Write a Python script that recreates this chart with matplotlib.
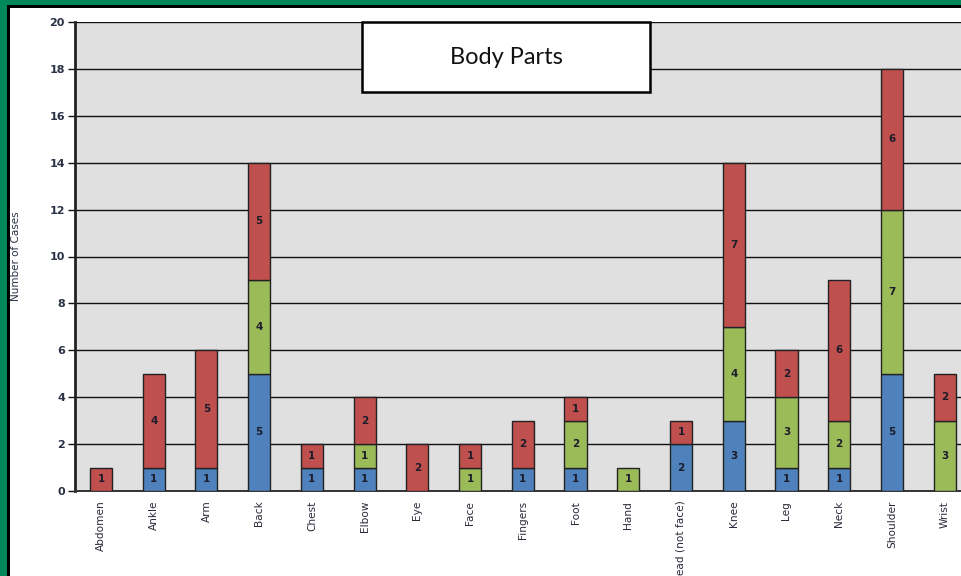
import matplotlib
matplotlib.use("Agg")
import matplotlib.pyplot as plt
from matplotlib.patches import Rectangle
import numpy as np

parts = ["Abdomen", "Ankle", "Arm", "Back", "Chest", "Elbow", "Eye", "Face", "Fingers",
         "Foot", "Hand", "Head (not face)", "Knee", "Leg", "Neck", "Shoulder", "Wrist"]
blue = [0, 1, 1, 5, 1, 1, 0, 0, 1, 1, 0, 2, 3, 1, 1, 5, 0]
green = [0, 0, 0, 4, 0, 1, 0, 1, 0, 2, 1, 0, 4, 3, 2, 7, 3]
red = [1, 4, 5, 5, 1, 2, 2, 1, 2, 1, 0, 1, 7, 2, 6, 6, 2]
yticks = [0, 2, 4, 6, 8, 10, 12, 14, 16, 18, 20]

W, H = 961, 576
fig = plt.figure(figsize=(W / 100, H / 100), dpi=100)
fig.patch.set_facecolor("#00875a")
# frame: green outer, black line, white inside
fig.add_artist(Rectangle((7 / W, 0), 1, 1 - 5 / H, transform=fig.transFigure,
                         facecolor="black", edgecolor="none", zorder=-2))
fig.add_artist(Rectangle((10 / W, 0), 1, 1 - 7.5 / H, transform=fig.transFigure,
                         facecolor="white", edgecolor="none", zorder=-1))

ax = fig.add_axes([74.6 / W, (H - 491) / H, 896.4 / W, 469 / H])
ax.set_facecolor("#e0e0e0")

x = np.arange(len(parts))
w = 0.42
b1 = np.array(blue)
b2 = b1 + np.array(green)
kw = dict(width=w, edgecolor="#222222", linewidth=1.0, zorder=3)
bars_b = ax.bar(x, blue, color="#4f81bd", **kw)
bars_g = ax.bar(x, green, bottom=b1, color="#9bbb59", **kw)
bars_r = ax.bar(x, red, bottom=b2, color="#c0504d", **kw)

for bars, vals in [(bars_b, blue), (bars_g, green), (bars_r, red)]:
    # hide zero-height bars entirely
    for bar, v in zip(bars, vals):
        if v == 0:
            bar.set_visible(False)
    ax.bar_label(bars, labels=[str(v) if v else "" for v in vals], label_type="center",
                 fontsize=7.5, fontweight="bold", color="#1c1c2a", zorder=4)

ax.set_xlim(-0.5, len(parts) - 0.5)
ax.set_ylim(0, 20)
ax.set_yticks(yticks)
ax.set_yticklabels([str(t) for t in yticks], fontsize=8, fontweight="bold", color="#2a3145")
ax.yaxis.grid(True, color="#111111", linewidth=1.0, zorder=1)
ax.set_axisbelow(True)

ax.set_xticks(x)
ax.set_xticklabels(parts, rotation=90, fontsize=7.6, color="#2a2a3a")
ax.tick_params(axis="x", length=0, pad=7)
ax.tick_params(axis="y", length=5, width=1, color="#111111", pad=2)

for s in ["top", "right"]:
    ax.spines[s].set_visible(False)
ax.spines["left"].set_linewidth(2)
ax.spines["left"].set_color("#222222")
ax.spines["bottom"].set_linewidth(1.4)
ax.spines["bottom"].set_color("#333333")

ax.set_ylabel("Number of Cases", fontsize=7.5, color="#2a3145", labelpad=20)

# title box inside the plot area
ax.add_patch(Rectangle((0.3206, 0.8507), 0.3213, 0.1493, transform=ax.transAxes,
                       facecolor="white", edgecolor="black", linewidth=1.8, zorder=6,
                       clip_on=False))
ax.text(0.3206 + 0.3213 / 2, 0.8507 + 0.1493 / 2, "Body Parts", transform=ax.transAxes,
        ha="center", va="center", fontsize=17, family="Lato", color="#111111", zorder=7)

fig.savefig("out.png", dpi=100, facecolor=fig.get_facecolor())
